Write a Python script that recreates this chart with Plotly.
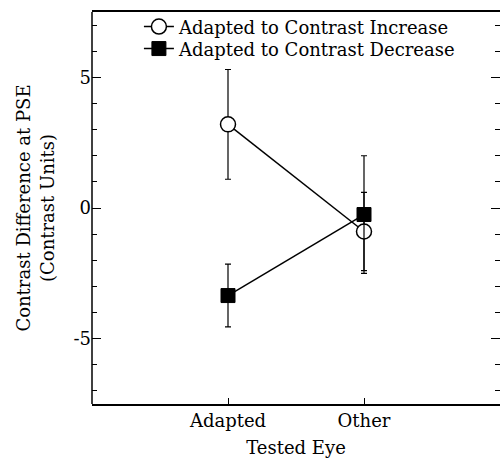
import plotly.graph_objects as go

categories = ["Adapted", "Other"]
increase_vals = [3.2, -0.9]
increase_err = [2.1, 1.5]
decrease_vals = [-3.35, -0.25]
decrease_err = [1.2, 2.25]
y_tickvals = [-5, 0, 5]
y_ticktext = ["-5", "0", "5"]

xpos = [i + 1 for i in range(len(categories))]
FONT = "DejaVu Serif"

fig = go.Figure()
fig.add_trace(go.Scatter(
    x=xpos, y=increase_vals, name="Adapted to Contrast Increase",
    mode="lines+markers", legend="legend",
    line=dict(color="black", width=1.5),
    marker=dict(symbol="circle", size=15, color="white", line=dict(color="black", width=1.5)),
    error_y=dict(type="data", array=increase_err, color="black", thickness=1.2, width=3),
))
fig.add_trace(go.Scatter(
    x=xpos, y=decrease_vals, name="Adapted to Contrast Decrease",
    mode="lines+markers", legend="legend2",
    line=dict(color="black", width=1.5),
    marker=dict(symbol="square", size=14, color="black", line=dict(color="black", width=1)),
    error_y=dict(type="data", array=decrease_err, color="black", thickness=1.2, width=3),
))

leg_common = dict(xanchor="left", yanchor="middle", bgcolor="rgba(0,0,0,0)",
                  font=dict(family=FONT, size=18), itemwidth=30)

fig.update_layout(
    width=500, height=458,
    margin=dict(l=92, r=0, t=12, b=54),
    paper_bgcolor="white", plot_bgcolor="white",
    font=dict(family=FONT, size=18, color="black"),
    showlegend=True,
    legend=dict(x=0.115, y=0.962, **leg_common),
    legend2=dict(x=0.115, y=0.906, **leg_common),
    xaxis=dict(
        range=[0, 3], tickvals=xpos, ticktext=categories, automargin=False,
        showline=True, linecolor="black", linewidth=1.5, mirror=True,
        ticks="inside", ticklen=6, tickcolor="black", showgrid=False, zeroline=False,
        title=dict(text="Tested Eye", standoff=13, font=dict(size=18)),
    ),
    yaxis=dict(
        range=[-7.5, 7.5], tickvals=y_tickvals, ticktext=y_ticktext, automargin=False,
        showline=False, mirror="ticks",
        ticks="inside", ticklen=9, tickcolor="black", showgrid=False, zeroline=False,
        minor=dict(dtick=1, ticks="inside", ticklen=5, tickcolor="black", showgrid=False),
        title=dict(text="Contrast Difference at PSE<br>(Contrast Units)", standoff=14, font=dict(size=18)),
    ),
    shapes=[dict(type="line", xref="x domain", yref="y domain", x0=0, x1=0, y0=0, y1=1,
                 line=dict(color="black", width=1.5), layer="above")],
)

fig.write_html("out.html", config={"displayModeBar": False},
               post_script="document.body.style.margin='0';")
